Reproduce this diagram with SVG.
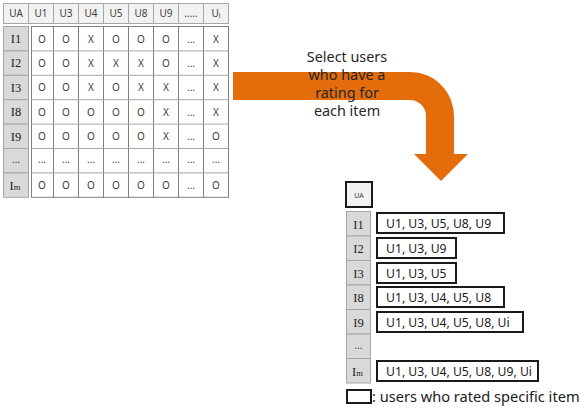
<svg xmlns="http://www.w3.org/2000/svg" width="584" height="410" viewBox="0 0 584 410">
  <style>
    .hd { fill: #f2f2f2; stroke: #a6a6a6; stroke-width: 1; }
    .rh { fill: #d9d9d9; stroke: #a6a6a6; stroke-width: 1; }
    .cell { fill: #ffffff; stroke: #7f7f7f; stroke-width: 1; }
    .ht { font-family: "Noto Sans", "Open Sans", sans-serif; font-size: 10px; fill: #404040; text-anchor: middle; }
    .ct { font-family: "Noto Sans", "Open Sans", sans-serif; font-size: 10px; fill: #404040; text-anchor: middle; }
    .rt { font-family: "Liberation Serif", "DejaVu Serif", serif; font-size: 12.5px; fill: #222222; text-anchor: middle; }
    .box { fill: #ffffff; stroke: #1a1a1a; stroke-width: 2; }
    .bt { font-family: "Noto Sans", "Open Sans", sans-serif; font-size: 12.2px; fill: #1a1a1a; }
    .lbl { font-family: "Noto Sans", "Open Sans", sans-serif; font-size: 14.4px; fill: #262626; text-anchor: middle; }
  </style>

  <rect width="584" height="410" fill="#ffffff"/>

  <!-- rating matrix -->
  <g id="matrix">
    <!-- header row -->
    <rect class="hd" x="3.5" y="3.5" width="25" height="20"/>
    <rect class="hd" x="28.5" y="3.5" width="25" height="20"/>
    <rect class="hd" x="53.5" y="3.5" width="25" height="20"/>
    <rect class="hd" x="78.5" y="3.5" width="25" height="20"/>
    <rect class="hd" x="103.5" y="3.5" width="25" height="20"/>
    <rect class="hd" x="128.5" y="3.5" width="25" height="20"/>
    <rect class="hd" x="153.5" y="3.5" width="25" height="20"/>
    <rect class="hd" x="178.5" y="3.5" width="25" height="20"/>
    <rect class="hd" x="203.5" y="3.5" width="25" height="20"/>
    <text class="ht" x="16" y="17">UA</text>
    <text class="ht" x="41" y="17">U1</text>
    <text class="ht" x="66" y="17">U3</text>
    <text class="ht" x="91" y="17">U4</text>
    <text class="ht" x="116" y="17">U5</text>
    <text class="ht" x="141" y="17">U8</text>
    <text class="ht" x="166" y="17">U9</text>
    <text class="ht" x="191" y="17">.....</text>
    <text class="ht" x="216" y="17">U<tspan font-size="7" dy="1">i</tspan></text>

    <!-- row header column -->
    <rect class="rh" x="3.5" y="26.5" width="25" height="24.4"/>
    <rect class="rh" x="3.5" y="50.9" width="25" height="24.4"/>
    <rect class="rh" x="3.5" y="75.3" width="25" height="24.4"/>
    <rect class="rh" x="3.5" y="99.7" width="25" height="24.4"/>
    <rect class="rh" x="3.5" y="124.1" width="25" height="24.4"/>
    <rect class="rh" x="3.5" y="148.5" width="25" height="24.4"/>
    <rect class="rh" x="3.5" y="172.9" width="25" height="24.4"/>
    <text class="rt" x="16" y="43">I1</text>
    <text class="rt" x="16" y="67.4">I2</text>
    <text class="rt" x="16" y="91.8">I3</text>
    <text class="rt" x="16" y="116.2">I8</text>
    <text class="rt" x="16" y="140.6">I9</text>
    <text class="ct" x="16" y="163">...</text>
    <text class="rt" x="15" y="189.5">I<tspan font-size="8.5">m</tspan></text>

    <!-- data grid -->
    <rect class="cell" x="31.5" y="26.5" width="197" height="170.8"/>
    <g stroke="#7f7f7f" stroke-width="1">
      <line x1="53.5" y1="26.5" x2="53.5" y2="197.3"/>
      <line x1="78.5" y1="26.5" x2="78.5" y2="197.3"/>
      <line x1="103.5" y1="26.5" x2="103.5" y2="197.3"/>
      <line x1="128.5" y1="26.5" x2="128.5" y2="197.3"/>
      <line x1="153.5" y1="26.5" x2="153.5" y2="197.3"/>
      <line x1="178.5" y1="26.5" x2="178.5" y2="197.3"/>
      <line x1="203.5" y1="26.5" x2="203.5" y2="197.3"/>
    </g>
    <g stroke="#a6a6a6" stroke-width="1">
      <line x1="31.5" y1="50.9" x2="228.5" y2="50.9"/>
      <line x1="31.5" y1="75.3" x2="228.5" y2="75.3"/>
      <line x1="31.5" y1="99.7" x2="228.5" y2="99.7"/>
      <line x1="31.5" y1="124.1" x2="228.5" y2="124.1"/>
      <line x1="31.5" y1="148.5" x2="228.5" y2="148.5"/>
      <line x1="31.5" y1="172.9" x2="228.5" y2="172.9"/>
    </g>

    <!-- cell values, one row per item -->
    <g class="ct">
      <text x="42" y="42.5">O</text><text x="66" y="42.5">O</text><text x="91" y="42.5">X</text><text x="116" y="42.5">O</text><text x="141" y="42.5">O</text><text x="166" y="42.5">O</text><text x="191" y="42.5">...</text><text x="216" y="42.5">X</text>
      <text x="42" y="67">O</text><text x="66" y="67">O</text><text x="91" y="67">X</text><text x="116" y="67">X</text><text x="141" y="67">X</text><text x="166" y="67">O</text><text x="191" y="67">...</text><text x="216" y="67">X</text>
      <text x="42" y="91.4">O</text><text x="66" y="91.4">O</text><text x="91" y="91.4">X</text><text x="116" y="91.4">O</text><text x="141" y="91.4">X</text><text x="166" y="91.4">X</text><text x="191" y="91.4">...</text><text x="216" y="91.4">X</text>
      <text x="42" y="115.8">O</text><text x="66" y="115.8">O</text><text x="91" y="115.8">O</text><text x="116" y="115.8">O</text><text x="141" y="115.8">O</text><text x="166" y="115.8">X</text><text x="191" y="115.8">...</text><text x="216" y="115.8">X</text>
      <text x="42" y="140.2">O</text><text x="66" y="140.2">O</text><text x="91" y="140.2">O</text><text x="116" y="140.2">O</text><text x="141" y="140.2">O</text><text x="166" y="140.2">X</text><text x="191" y="140.2">...</text><text x="216" y="140.2">O</text>
      <text x="42" y="163">...</text><text x="66" y="163">...</text><text x="91" y="163">...</text><text x="116" y="163">...</text><text x="141" y="163">...</text><text x="166" y="163">...</text><text x="191" y="163">...</text><text x="216" y="163">...</text>
      <text x="42" y="189">O</text><text x="66" y="189">O</text><text x="91" y="189">O</text><text x="116" y="189">O</text><text x="141" y="189">O</text><text x="166" y="189">O</text><text x="191" y="189">...</text><text x="216" y="189">O</text>
    </g>
  </g>

  <!-- bent arrow -->
  <g id="connectors">
    <path fill="#e46c0a" d="M233 72 H410 A44 44 0 0 1 454 116 V154 H468 L441 181 L414 154 H426 V116 A16 16 0 0 0 410 100 H233 Z"/>
  </g>

  <g id="arrow-label">
    <text class="lbl" x="347" y="62">Select users</text>
    <text class="lbl" x="347" y="80">who have a</text>
    <text class="lbl" x="347" y="98">rating for</text>
    <text class="lbl" x="347" y="116">each item</text>
  </g>

  <!-- per-item user lists -->
  <g id="lists">
    <rect x="346" y="182" width="26" height="25" fill="#f2f2f2" stroke="#1a1a1a" stroke-width="2"/>
    <text class="ht" x="359" y="198" style="font-size:7px">UA</text>

    <rect class="rh" x="346.5" y="211.5" width="24" height="24.5"/>
    <rect class="rh" x="346.5" y="236" width="24" height="24.5"/>
    <rect class="rh" x="346.5" y="260.5" width="24" height="24.5"/>
    <rect class="rh" x="346.5" y="285" width="24" height="24.5"/>
    <rect class="rh" x="346.5" y="309.5" width="24" height="24.5"/>
    <rect class="rh" x="346.5" y="334" width="24" height="24.5"/>
    <rect class="rh" x="346.5" y="358.5" width="24" height="24.5"/>
    <text class="rt" x="358.5" y="228.5">I1</text>
    <text class="rt" x="358.5" y="253">I2</text>
    <text class="rt" x="358.5" y="277.5">I3</text>
    <text class="rt" x="358.5" y="302">I8</text>
    <text class="rt" x="358.5" y="326.5">I9</text>
    <text class="ct" x="358.5" y="349">...</text>
    <text class="rt" x="357.5" y="375.5">I<tspan font-size="8.5">m</tspan></text>
  </g>

  <g id="list-I1">
    <rect class="box" x="377" y="213" width="127" height="20"/>
    <text class="bt" x="386" y="227.5">U1, U3, U5, U8, U9</text>
  </g>
  <g id="list-I2">
    <rect class="box" x="377" y="238" width="79" height="20"/>
    <text class="bt" x="386" y="252.5">U1, U3, U9</text>
  </g>
  <g id="list-I3">
    <rect class="box" x="377" y="263" width="79" height="20"/>
    <text class="bt" x="386" y="277.5">U1, U3, U5</text>
  </g>
  <g id="list-I8">
    <rect class="box" x="377" y="287" width="127" height="20"/>
    <text class="bt" x="386" y="301.5">U1, U3, U4, U5, U8</text>
  </g>
  <g id="list-I9">
    <rect class="box" x="377" y="312" width="146" height="20"/>
    <text class="bt" x="386" y="326.5">U1, U3, U4, U5, U8, Ui</text>
  </g>
  <g id="list-Im">
    <rect class="box" x="377" y="361" width="161" height="20"/>
    <text class="bt" x="386" y="375.5">U1, U3, U4, U5, U8, U9, Ui</text>
  </g>

  <!-- legend -->
  <g id="legend">
    <rect class="box" x="347" y="390" width="24" height="13"/>
    <text class="bt" x="372" y="401.5" style="font-size:14.6px">: users who rated specific item</text>
  </g>
</svg>
